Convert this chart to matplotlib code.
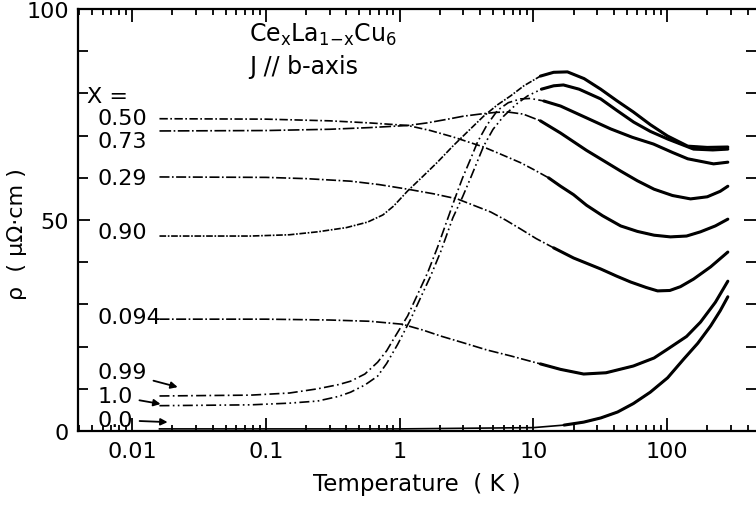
import matplotlib
matplotlib.use("Agg")
import matplotlib.pyplot as plt
from matplotlib.ticker import FixedLocator, FixedFormatter, LogLocator, NullFormatter, MultipleLocator
from matplotlib.transforms import blended_transform_factory

# ---------------- data ----------------
T_050 = [0.016, 0.1, 0.3, 0.6, 1.15, 1.7, 2.5, 4.25, 5.7, 8, 10, 13, 16, 20, 25, 33, 45, 60, 80, 106, 140, 178, 230, 285]
R_050 = [74.0, 73.9, 73.5, 73.0, 72.4, 71.2, 69.7, 67.3, 65.6, 63.6, 62.0, 60.0, 58.0, 56.0, 53.5, 51.0, 48.6, 47.3, 46.4, 46.0, 46.2, 47.2, 48.6, 50.2]

T_073 = [0.016, 0.1, 0.3, 0.6, 1.15, 1.6, 2.3, 3.0, 4.0, 5.2, 6.4, 8.4, 11.3, 16, 25, 35, 45, 60, 80, 110, 150, 200, 250, 285]
R_073 = [71.1, 71.2, 71.5, 71.9, 72.4, 73.0, 73.9, 74.6, 75.1, 75.5, 75.6, 75.1, 73.5, 70.6, 66.5, 63.7, 61.6, 59.3, 57.3, 55.8, 55.0, 55.5, 56.8, 58.0]

T_029 = [0.016, 0.1, 0.2, 0.43, 0.7, 1.15, 1.8, 2.7, 3.5, 4.8, 6.2, 8.0, 10.5, 14.2, 20, 31.9, 42, 53.5, 70, 85, 105, 126, 158, 212, 285]
R_029 = [60.2, 60.1, 59.8, 59.2, 58.4, 57.3, 56.2, 55.0, 53.6, 51.9, 50.0, 47.9, 45.6, 43.4, 41.0, 38.4, 36.7, 35.3, 34.0, 33.2, 33.3, 34.2, 36.0, 38.9, 42.4]

T_090 = [0.016, 0.077, 0.15, 0.244, 0.4, 0.576, 0.75, 0.902, 1.15, 1.5, 1.92, 2.5, 3.22, 4.25, 5.4, 6.76, 8.5, 11.3, 14.2, 18, 24, 31.9, 42, 56, 75, 101, 143, 200, 285]
R_090 = [46.2, 46.2, 46.5, 47.2, 48.2, 49.5, 51.2, 53.3, 56.9, 60.4, 63.7, 67.5, 70.9, 74.6, 77.3, 79.4, 81.8, 84.1, 85.0, 85.1, 83.5, 81.0, 78.3, 75.6, 72.6, 69.9, 67.5, 67.2, 67.3]

T_094 = [0.016, 0.1, 0.3, 0.6, 1.05, 1.5, 2.03, 3.0, 4.5, 6.76, 11.3, 16, 23.8, 35, 56, 80, 101, 140, 178, 230, 285]
R_094 = [26.5, 26.5, 26.3, 26.0, 25.3, 23.9, 22.5, 20.9, 19.2, 17.8, 15.9, 14.6, 13.5, 13.8, 15.4, 17.3, 19.4, 22.4, 25.8, 30.5, 35.5]

T_099 = [0.016, 0.077, 0.15, 0.244, 0.35, 0.43, 0.55, 0.685, 0.8, 0.902, 1.15, 1.62, 1.92, 2.62, 2.96, 3.4, 3.83, 4.5, 5.41, 6.5, 8.03, 9.52, 12, 16, 25, 37.8, 55, 79.2, 110, 143, 223, 285]
R_099 = [8.3, 8.5, 9.0, 10.0, 11.0, 11.8, 13.5, 16.3, 19.0, 21.8, 27.3, 37.5, 43.5, 55.5, 60.0, 64.5, 68.5, 72.5, 76.0, 77.8, 78.7, 78.8, 78.2, 77.0, 74.2, 71.6, 69.6, 68.0, 66.0, 64.5, 63.3, 63.7]

T_100 = [0.016, 0.077, 0.15, 0.244, 0.35, 0.43, 0.55, 0.685, 0.8, 0.966, 1.21, 1.71, 2.03, 2.5, 2.96, 3.4, 4.25, 5.0, 6.0, 7.5, 9.06, 11.5, 14.2, 16.8, 22, 31.9, 42, 56.3, 75, 101, 158, 220, 285]
R_100 = [6.0, 6.2, 6.6, 7.1, 8.2, 9.2, 10.9, 13.0, 16.0, 20.5, 26.5, 36.8, 42.5, 50.5, 55.5, 60.0, 67.5, 71.5, 74.6, 77.5, 79.4, 81.0, 81.8, 82.0, 81.0, 78.7, 76.0, 73.2, 71.0, 69.2, 66.8, 66.6, 66.8]

T_000 = [0.016, 1, 10, 17, 23.8, 32, 42.7, 56, 75, 101, 133, 170, 212, 250, 285]
R_000 = [0.5, 0.5, 0.8, 1.4, 2.1, 3.1, 4.5, 6.5, 9.2, 12.6, 17.0, 20.8, 24.9, 28.5, 31.8]

x_ticks = [0.01, 0.1, 1, 10, 100]
x_ticklabels = ["0.01", "0.1", "1", "10", "100"]
y_ticks = [0, 50, 100]
y_ticklabels = ["0", "50", "100"]

curve_names = ["0.50", "0.73", "0.29", "0.90", "0.094", "0.99", "1.0", "0.0"]

# ---------------- figure ----------------
fig = plt.figure(figsize=(7.56, 5.10), dpi=100)
ax = fig.add_axes([77.5 / 756, 78 / 510, 1 - 77.5 / 756, 422 / 510])
ax.set_xscale("log")
ax.set_xlim(0.0039, 463)
ax.set_ylim(0, 100)

curves = [
    (T_050, R_050, (0, (5, 1.5, 1, 1.5))),
    (T_073, R_073, (0, (7, 1.5, 1, 1.5))),
    (T_029, R_029, (0, (6, 1.5, 1, 1.5))),
    (T_090, R_090, (0, (4, 1, 1, 1))),
    (T_094, R_094, (0, (6, 1.5, 1, 1.5))),
    (T_099, R_099, (0, (6, 2, 1, 2))),
    (T_100, R_100, (0, (6, 2, 1, 2, 1, 2))),
    (T_000, R_000, "-"),
]
solid_from = 11.0
for T, R, ls in curves:
    ax.plot(T, R, color="black", lw=1.2, linestyle=ls)
    idx = [i for i, t in enumerate(T) if t >= solid_from]
    if idx:
        s = idx[0]
        ax.plot(T[s:], R[s:], color="black", lw=2.2, solid_capstyle="round",
                solid_joinstyle="round")

# ticks
ax.xaxis.set_major_locator(FixedLocator(x_ticks))
ax.xaxis.set_major_formatter(FixedFormatter(x_ticklabels))
ax.xaxis.set_minor_locator(LogLocator(base=10, subs=range(2, 10), numticks=20))
ax.xaxis.set_minor_formatter(NullFormatter())
ax.yaxis.set_major_locator(FixedLocator(y_ticks))
ax.yaxis.set_major_formatter(FixedFormatter(y_ticklabels))
ax.yaxis.set_minor_locator(MultipleLocator(10))

ax.tick_params(which="both", direction="in", top=True, right=True, labelsize=16, width=1.3)
ax.tick_params(axis="x", which="major", length=9.5, pad=7)
ax.tick_params(axis="x", which="minor", length=4.5)
ax.tick_params(axis="y", which="major", length=8.5, pad=6)
ax.tick_params(axis="y", which="minor", length=7.2)

for sp in ["left", "bottom", "top"]:
    ax.spines[sp].set_linewidth(1.6)
ax.spines["right"].set_visible(False)

ax.set_xlabel("Temperature  ( K )", fontsize=16.5, labelpad=8)
ax.set_ylabel("ρ  ( μΩ·cm )", fontsize=16)
ax.yaxis.set_label_coords(-0.075, 0.47)

# annotations
ax.text(0.253, 0.94, r"Ce$_{\rm x}$La$_{\rm 1{-}x}$Cu$_{\rm 6}$", transform=ax.transAxes,
        fontsize=17, ha="left", va="center")
ax.text(0.253, 0.865, "J // b-axis", transform=ax.transAxes, fontsize=17, ha="left", va="center")

trans = blended_transform_factory(ax.transAxes, ax.transData)
ax.text(0.0135, 79.4, "X =", transform=trans, fontsize=16, ha="left", va="center")
label_y = [74.2, 68.7, 60.0, 47.2, 27.0]
for name, yv in zip(curve_names[:5], label_y):
    ax.text(0.029, yv, name, transform=trans, fontsize=16, ha="left", va="center")

arrow_labels = ["0.99", "1.0", "0.0"]
arrow_text_y = [13.9, 8.3, 2.6]
arrow_tip = [(0.0219, 10.4), (0.0163, 6.4), (0.0184, 2.1)]
for name, ty, tip in zip(arrow_labels, arrow_text_y, arrow_tip):
    ax.annotate(name, xy=tip, xycoords="data", xytext=(0.029, ty), textcoords=trans,
                fontsize=16, ha="left", va="center",
                arrowprops=dict(arrowstyle="-|>", color="black", lw=1.3,
                                mutation_scale=10, shrinkA=3, shrinkB=0))

fig.savefig("out.png", dpi=100)
